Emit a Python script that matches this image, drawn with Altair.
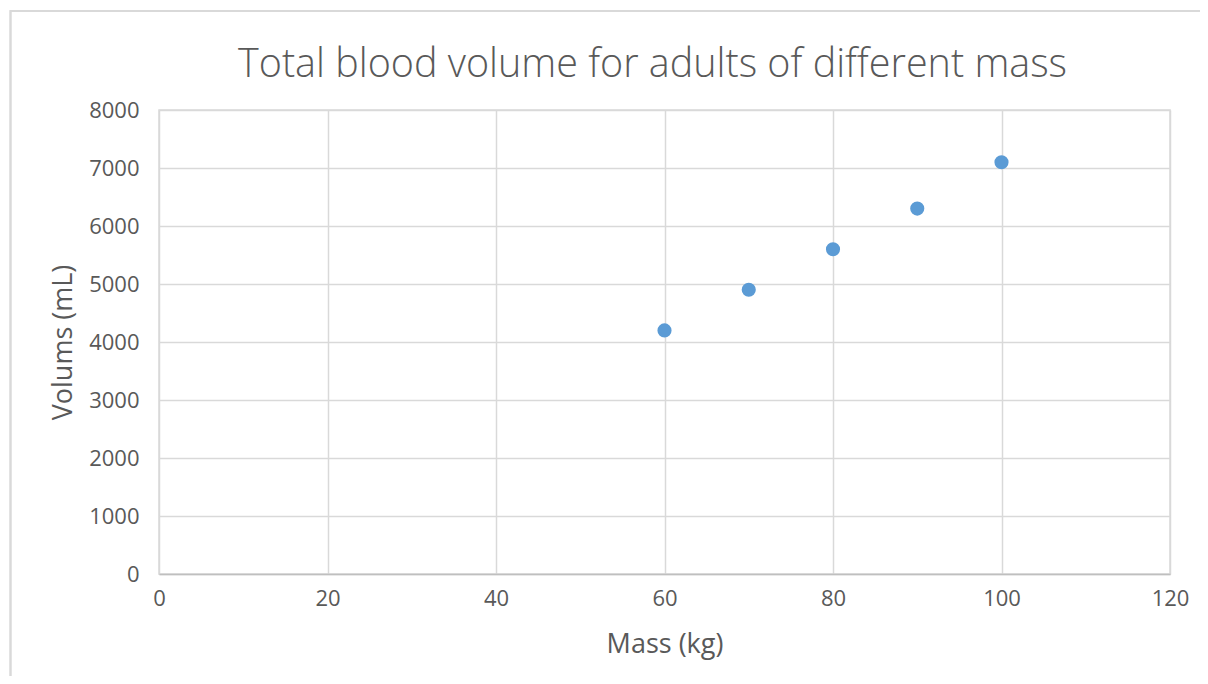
import altair as alt
import pandas as pd

mass = [60, 70, 80, 90, 100]
volume = [4200, 4900, 5600, 6300, 7100]

df = pd.DataFrame({"Mass": mass, "Volume": volume})

W, H = 1011, 464
PL, PT = 151, 102
PR, PB = 1192 - PL - W, 668 - PT - H

points = alt.Chart(df).mark_circle(size=200, color="#5b9bd5", opacity=1).encode(
    x=alt.X("Mass:Q", title="Mass (kg)",
            scale=alt.Scale(domain=[0, 120], nice=False),
            axis=alt.Axis(values=[0, 20, 40, 60, 80, 100, 120], format="d",
                          titleY=70, titleBaseline="middle", labelFlush=False)),
    y=alt.Y("Volume:Q", title="Volums (mL)",
            scale=alt.Scale(domain=[0, 8000], nice=False),
            axis=alt.Axis(values=[0, 1000, 2000, 3000, 4000, 5000, 6000, 7000, 8000],
                          format="d", titleX=-96, titleY=232, titleBaseline="middle",
                          labelFlush=False)),
)

border = alt.Chart(df).mark_rect(fill=None, stroke="#d9d9d9", strokeWidth=1.5, clip=False).encode(
    x=alt.value(-PL + 2.5), x2=alt.value(W + PR + 50),
    y=alt.value(-PT + 3), y2=alt.value(H + PB + 50),
)

chart = alt.layer(border, points).properties(
    width=W, height=H,
    autosize=alt.AutoSizeParams(type="none"),
    padding={"left": PL, "top": PT, "right": PR, "bottom": PB},
    title=alt.TitleParams("Total blood volume for adults of different mass",
                          fontSize=39.5, font="Open Sans", fontWeight=300,
                          color="#595959", offset=28, dx=-12, dy=103),
).configure_view(stroke="#d9d9d9", strokeWidth=1.5).configure_axis(
    grid=True, gridColor="#d9d9d9", gridWidth=1.5,
    domainColor="#bfbfbf", domainWidth=1.5,
    ticks=False, labelFont="Open Sans", labelFontSize=22, labelColor="#595959",
    titleFont="Open Sans", titleFontSize=27, titleFontWeight="normal", titleColor="#595959",
).configure_axisY(domain=False, labelPadding=20).configure_axisX(labelPadding=14)

chart.save("out.html", embed_options={"renderer": "svg", "actions": False})
